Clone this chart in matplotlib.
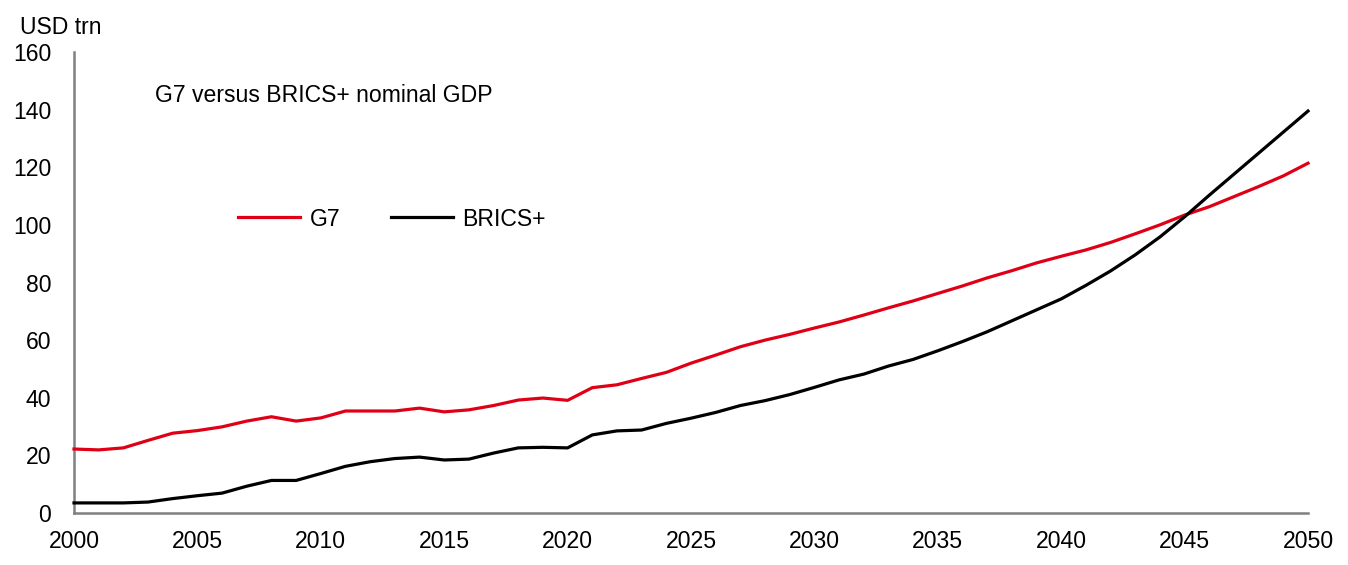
import matplotlib
matplotlib.use("Agg")
import matplotlib.pyplot as plt

plt.rcParams['font.family'] = ['Liberation Sans', 'DejaVu Sans']

years = list(range(2000, 2051))

# G7 nominal GDP, USD trn
g7 = [22.2, 21.9, 22.6, 25.2, 27.7, 28.6, 29.9, 31.9, 33.4, 31.9,
      33.0, 35.4, 35.4, 35.4, 36.4, 35.1, 35.8, 37.3, 39.2, 39.9,
      39.1, 43.5, 44.5, 46.7, 48.8, 52.0, 54.8, 57.7, 60.0, 62.0,
      64.2, 66.3, 68.7, 71.2, 73.6, 76.2, 78.8, 81.6, 84.1, 86.8,
      89.1, 91.3, 93.9, 96.9, 100.0, 103.4, 106.3, 109.8, 113.3, 117.0,
      121.4]

# BRICS+ nominal GDP, USD trn
brics = [3.5, 3.5, 3.5, 3.8, 5.0, 6.0, 6.9, 9.3, 11.3, 11.3,
         13.7, 16.2, 17.8, 18.9, 19.4, 18.4, 18.7, 20.8, 22.6, 22.8,
         22.6, 27.1, 28.5, 28.8, 31.1, 32.9, 34.9, 37.3, 39.0, 41.1,
         43.6, 46.2, 48.2, 51.0, 53.3, 56.3, 59.5, 62.9, 66.7, 70.5,
         74.3, 79.0, 84.0, 89.6, 95.8, 102.8, 110.3, 117.6, 124.9, 132.2,
         139.5]

xticks = [2000, 2005, 2010, 2015, 2020, 2025, 2030, 2035, 2040, 2045, 2050]
yticks = [0, 20, 40, 60, 80, 100, 120, 140, 160]

fs = 16.6
W, H = 1348, 565
fig = plt.figure(figsize=(W / 100, H / 100), dpi=100)
ax = fig.add_axes([74 / W, 1 - 513 / H, (1308 - 74) / W, (513 - 52) / H])

ax.plot(years, g7, color='#e00016', lw=2.3, label='G7', clip_on=False, zorder=3)
ax.plot(years, brics, color='black', lw=2.3, label='BRICS+', clip_on=False, zorder=3)

ax.set_xlim(2000, 2050)
ax.set_ylim(0, 160)
ax.set_xticks(xticks)
ax.set_yticks(yticks)
ax.tick_params(length=0, labelsize=fs)
ax.tick_params(axis='y', pad=16.5)
ax.tick_params(axis='x', pad=12)
for s in ['top', 'right']:
    ax.spines[s].set_visible(False)
for s in ['left', 'bottom']:
    ax.spines[s].set_color('#808080')
    ax.spines[s].set_linewidth(1.8)

fig.text(20 / W, 1 - 27 / H, 'USD trn', fontsize=fs, ha='left', va='center')
fig.text(155 / W, 1 - 96 / H, 'G7 versus BRICS+ nominal GDP', fontsize=fs,
         ha='left', va='center')

fig.legend(loc='center left', bbox_to_anchor=(238 / W, 1 - 219 / H), ncol=2,
           frameon=False, fontsize=fs, handlelength=2.7, handletextpad=0.4,
           columnspacing=2.2, borderpad=0, borderaxespad=0)

fig.savefig('out.png', dpi=100)
